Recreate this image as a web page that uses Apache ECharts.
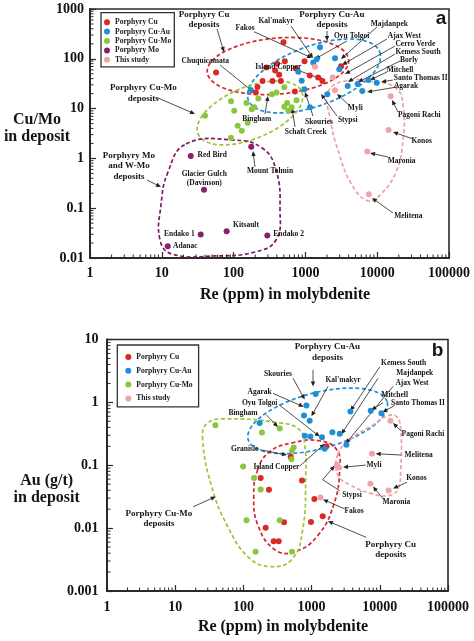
<!DOCTYPE html>
<html><head><meta charset="utf-8">
<script src="https://cdn.jsdelivr.net/npm/echarts@6/dist/echarts.min.js"></script>
<style>html,body{margin:0;padding:0;background:#fff}#c{width:474px;height:641px}</style>
</head><body><div id="c"></div>
<script>
// ---------- DATA ----------
const seriesNames = ['Porphyry Cu','Porphyry Cu-Au','Porphyry Cu-Mo','Porphyry Mo','This study'];
const xTicks = ['1','10','100','1000','10000','100000'];

// Panel a : Re (ppm) vs Cu/Mo
const aPorphyryCu = [[57,53],[495,216],[287,67],[404,80],[517,89],[379,58],[431,48],[971,89],[1151,46],[1504,42],[1727,36],[3141,71],[215,27],[253,36],[348,36],[455,36],[713,22],[204,21],[735,64]];
const aPorphyryCuAu = [[1597,170],[1437,98],[1288,84],[2583,102],[2965,61.5],[796,55],[888,36.3],[966,24.4],[1159,10.6],[2018,19.4],[3882,28.4],[5346,31.2],[6194,22.6],[7516,37.5],[9840,33.1],[173,23.6]];
const aPorphyryCuMo = [[40,7.2],[92,14],[102,9.1],[151,13],[179,9.7],[194,10.6],[114,4.5],[130,3.6],[157,5.2],[92,2.6],[221,16],[341,19.5],[396,21],[508,26.8],[508,10.9],[557,13],[644,10.6],[581,9.1],[751,14.7]];
const aPorphyryMo = [[25.3,1.12],[176,1.72],[38.7,0.235],[34.8,0.0297],[80,0.0346],[295,0.0284],[12.1,0.0173]];
const aThisStudy = [[1361,69],[2400,42],[2585,23.4],[15400,17.7],[14400,3.7],[7280,1.38],[7650,0.19]];

// Panel b : Re (ppm) vs Au (g/t)
const bPorphyryCu = [[494,0.137],[1650,0.2],[179,0.0626],[237,0.0408],[723,0.0574],[394,0.0124],[212,0.0101],[278,0.0062],[329,0.0062],[1099,0.029],[980,0.0125],[1455,0.0154]];
const bPorphyryCuAu = [[1148,1.36],[839,0.89],[774,0.62],[937,0.51],[173,0.468],[793,0.294],[960,0.286],[1420,0.28],[2018,0.336],[2583,0.316],[3238,0.211],[1556,0.183],[3706,0.714],[7360,0.733],[10550,0.673]];
const bPorphyryCuMo = [[38.8,0.433],[187,0.332],[341,0.385],[547,0.192],[516,0.17],[506,0.125],[99,0.0957],[143,0.0626],[179,0.041],[111,0.0133],[341,0.0133],[151,0.0042],[516,0.0042]];
const bThisStudy = [[14300,0.508],[7690,0.152],[2360,0.102],[2523,0.092],[13500,0.0396],[7280,0.051],[1346,0.0308]];

// ---------- ANNOTATIONS (data space; positions as log10 values) ----------
const aLabels = [
 ['Porphyry Cu\ndeposits',1.588,2.789,9],['Porphyry Cu-Au\ndeposits',3.370,2.789,9],
 ['Porphyry Cu-Mo\ndeposits',0.742,1.313,9],['Porphyry Mo\nand W-Mo\ndeposits',0.543,-0.153,9],
 ['Chuquicamata',1.606,1.950,7.5],['Fakos',2.159,2.622,7.5],["Kal'makyr",2.591,2.753,7.5],
 ['Island Copper',2.623,1.825,7.5],['Majdanpek',4.169,2.689,7.5],['Oyu Tolgoi',3.645,2.466,7.5],
 ['Ajax West',4.378,2.466,7.5],['Cerro Verde',4.531,2.293,7.5],['Kemess South',4.568,2.129,7.5],
 ['Borly',4.443,1.966,7.5],['Mitchell',4.318,1.769,7.5],['Santo Thomas II',4.606,1.620,7.5],
 ['Agarak',4.401,1.456,7.5],['Myli',3.695,1.020,7.5],['Stypsi',3.589,0.775,7.5],
 ['Skouries',3.189,0.733,7.5],['Schaft Creek',3.004,0.528,7.5],['Bingham',2.322,0.799,7.5],
 ['Pagoni Rachi',4.586,0.865,7.5],['Konos',4.620,0.347,7.5],['Maronia',4.341,-0.046,7.5],
 ['Melitena',4.433,-1.157,7.5],['Red Bird',1.703,0.076,7.5],['Mount Tolmin',2.507,-0.253,7.5],
 ['Glacier Gulch\n(Davinson)',1.592,-0.408,7.5],['Kitsault',2.173,-1.337,7.5],
 ['Endako 1',1.244,-1.518,7.5],['Endako 2',2.767,-1.526,7.5],['Adanac',1.327,-1.763,7.5],
 ['a',4.889,2.811,19,'sans'],
 ['Cu/Mo\nin deposit',-0.738,0.600,16]
];
const bLabels = [
 ['Porphyry Cu-Au\ndeposits',3.232,0.797,9],['Kemess South',4.350,0.624,7.5],['Majdanpek',4.512,0.468,7.5],
 ['Ajax West',4.472,0.306,7.5],['Mitchell',4.218,0.124,7.5],['Santo Thomas II',4.560,-0.006,7.5],
 ['Skouries',2.507,0.449,7.5],["Kal'makyr",3.460,0.351,7.5],['Agarak',2.239,0.170,7.5],
 ['Oyu Tolgoi',2.239,-0.006,7.5],['Bingham',1.994,-0.168,7.5],['Pagoni Rachi',4.633,-0.506,7.5],
 ['Granisle',2.019,-0.740,7.5],['Melitena',4.570,-0.837,7.5],['Island Copper',2.484,-1.032,7.5],
 ['Myli',3.915,-0.992,7.5],['Konos',4.537,-1.206,7.5],['Stypsi',3.592,-1.467,7.5],
 ['Maronia',4.243,-1.583,7.5],['Fakos',3.622,-1.725,7.5],['Porphyry Cu-Mo\ndeposits',0.762,-1.846,9],
 ['Porphyry Cu\ndeposits',4.160,-2.343,9],['b',4.845,0.819,19,'sans'],
 ['Au (g/t)\nin deposit',-0.884,-1.389,16]
];
const aArrows = [
 [[1.769,2.598],[1.866,2.137]],[[3.301,2.558],[3.301,2.357]],[[0.947,1.213],[1.462,0.892]],
 [[0.794,-0.434],[0.989,-0.574]],[[1.811,1.876],[2.312,1.293]],[[2.284,2.544],[3.092,2.016]],
 [[2.799,2.659],[3.106,2.016]],[[2.925,1.755],[3.259,1.574]],[[3.997,2.639],[3.496,1.996]],
 [[3.579,2.357],[3.134,1.996]],[[4.136,2.398],[3.510,1.876]],[[4.248,2.257],[3.552,1.695]],
 [[4.248,2.096],[3.593,1.534]],[[4.318,1.956],[3.733,1.534]],[[4.136,1.735],[3.900,1.574]],
 [[4.220,1.574],[4.053,1.534]],[[4.276,1.434],[3.858,1.333]],[[3.621,1.052],[3.440,1.293]],
 [[3.440,0.851],[3.217,1.293]],[[3.106,0.851],[2.994,1.333]],[[2.855,0.631],[2.813,1.012]],
 [[2.437,0.892],[2.479,1.253]],[[4.290,0.932],[4.206,1.173]],[[4.499,0.390],[4.220,0.530]],
 [[4.150,0.028],[3.900,0.108]],[[4.220,-1.096],[3.928,-0.795]],[[2.298,-0.173],[2.270,0.149]]
];
const bArrows = [
 [[3.021,0.516],[3.021,0.254]],[[3.999,0.565],[3.569,-0.135]],[[3.974,0.384],[3.437,-0.506]],
 [[4.194,0.254],[3.500,-0.656]],[[4.047,-0.006],[3.877,-0.122]],[[4.218,-0.051],[4.038,-0.156]],
 [[2.727,0.384],[2.899,0.046]],[[3.240,0.254],[2.997,-0.221]],[[2.434,0.143],[2.884,-0.071]],
 [[2.522,-0.038],[3.119,-0.544]],[[2.337,-0.2],[2.507,-0.395]],[[4.317,-0.460],[4.194,-0.330]],
 [[2.239,-0.752],[2.639,-0.837]],[[4.317,-0.837],[3.940,-0.817]],[[2.826,-1.013],[3.192,-0.659]],
 [[3.793,-0.998],[3.460,-1.032]],[[4.399,-1.271],[4.194,-1.370]],[[3.412,-1.405],[3.163,-1.230],[3.339,-1.008]],
 [[4.047,-1.532],[3.900,-1.337]],[[3.485,-1.694],[3.167,-1.544]],[[1.261,-1.662],[1.594,-1.498]],
 [[3.804,-2.148],[3.240,-1.889]]
];
const aEnclosures = [
 {kind:'ellipse', c:[415,71.6], a:71, b:28, rot:-5, color:'#d8262a'},
 {kind:'ellipse', c:[1318,45.2], a:70, b:30, rot:-20, color:'#1f8fd8'},
 {kind:'ellipse', c:[169,8.17], a:56, b:26, rot:-22, color:'#9cc53c'},
 {kind:'poly', pts:[[21.7,1.95],[98,2.34],[249,1.62],[390,0.585],[443,0.092],[390,0.023],[199,0.0132],[55,0.011],[13.9,0.012],[9.44,0.023],[9.75,0.116],[12.2,0.533]], color:'#7d1a62'},
 {kind:'poly', pts:[[2065,21.5],[3563,35.8],[9320,34.2],[18260,25.9],[22880,11.8],[22880,2.34],[18260,0.533],[10940,0.184],[7450,0.14],[4456,0.292],[2845,1.47],[2203,6.5]], color:'#f0a0a8'}
];
const bEnclosures = [
 {kind:'ellipse', c:[1229,0.508], a:72, b:28, rot:-15, color:'#1f8fd8'},
 {kind:'poly', pts:[[162,0.085],[243,0.164],[529,0.228],[1315,0.245],[2336,0.176],[2583,0.085],[2110,0.0236],[1229,0.0076],[565,0.0042],[288,0.00456],[162,0.0114],[142,0.034]], color:'#d8262a'},
 {kind:'poly', pts:[[25.3,0.254],[29,0.456],[53.2,0.547],[341,0.473],[669,0.365],[793,0.211],[820,0.0706],[741,0.00946],[511,0.00316],[243,0.00245],[116,0.00353],[58.9,0.0106],[34.3,0.0456]], color:'#9cc53c'},
 {kind:'poly', pts:[[2414,0.147],[3619,0.254],[7608,0.424],[13060,0.611],[17700,0.589],[20250,0.366],[20250,0.085],[18300,0.041],[13060,0.0328],[7608,0.0353],[3619,0.049],[2414,0.0706]], color:'#f0a0a8'}
];

// ---------- STYLE ----------
const SERIF = '"Liberation Serif","Times New Roman",serif';
const SANS = '"Liberation Sans",Arial,sans-serif';
const COLORS = {'Porphyry Cu':'#d72a24','Porphyry Cu-Au':'#1e8fd7','Porphyry Cu-Mo':'#8cc63f','Porphyry Mo':'#8a1f6b','This study':'#f1a3a9'};
const AX = '#2a2a2a';

const chart = echarts.init(document.getElementById('c'));

function scatter(name, data, gi){
  return {type:'scatter', name, data, xAxisIndex:gi, yAxisIndex:gi, symbolSize:6, z:5,
    itemStyle:{color:COLORS[name], opacity:1}, silent:true};
}
function idxData(n){ const d=[]; for(let i=0;i<n;i++) d.push([1,1,i]); return d; }
function custom(gi, data, renderItem, z){
  return {type:'custom', xAxisIndex:gi, yAxisIndex:gi, data, renderItem, encode:{x:0,y:1}, z, silent:true, clip:false};
}
const P = v => Math.pow(10, v);
function labelRender(list){
  return (params, api) => {
    const L = list[api.value(2)];
    const p = api.coord([P(L[1]), P(L[2])]);
    return {type:'text', x:p[0], y:p[1], style:{text:L[0], fill:'#151515',
      fontFamily: L[4]==='sans'?SANS:SERIF, fontWeight:'bold', fontSize:L[3],
      lineHeight: L[3]>=16 ? 17 : L[3]*1.15, align:'center', verticalAlign:'middle'}};
  };
}
function arrowRender(list){
  return (params, api) => {
    const A = list[api.value(2)];
    const pts = A.map(q => api.coord([P(q[0]), P(q[1])]));
    const n = pts.length, t = pts[n-1], s = pts[n-2];
    let dx = t[0]-s[0], dy = t[1]-s[1]; const len = Math.hypot(dx,dy)||1; dx/=len; dy/=len;
    const hl = 5, hw = 2.2;
    const head = [t, [t[0]-dx*hl-dy*hw, t[1]-dy*hl+dx*hw], [t[0]-dx*hl+dy*hw, t[1]-dy*hl-dx*hw]];
    const lineEnd = pts.slice(0, n-1).concat([[t[0]-dx*hl*0.8, t[1]-dy*hl*0.8]]);
    return {type:'group', children:[
      {type:'polyline', shape:{points:lineEnd}, style:{stroke:'#222', lineWidth:0.8, fill:null}},
      {type:'polygon', shape:{points:head}, style:{fill:'#222'}}
    ]};
  };
}
function enclosureRender(list){
  return (params, api) => {
    const E = list[api.value(2)];
    let pts;
    if (E.kind === 'ellipse'){
      const c = api.coord(E.c), th = E.rot*Math.PI/180; pts = [];
      for (let i=0;i<90;i++){ const t=i/90*2*Math.PI, ex=E.a*Math.cos(t), ey=E.b*Math.sin(t);
        pts.push([c[0]+ex*Math.cos(th)-ey*Math.sin(th), c[1]+ex*Math.sin(th)+ey*Math.cos(th)]); }
      return {type:'polygon', shape:{points:pts}, style:{fill:'none', stroke:E.color, lineWidth:1.7, lineDash:[4,2.5]}};
    }
    pts = E.pts.map(q => api.coord(q));
    return {type:'polygon', shape:{points:pts, smooth:0.45}, style:{fill:'none', stroke:E.color, lineWidth:1.7, lineDash:[4,2.5]}};
  };
}
function minorTickData(xExp, yExp){
  const d=[];
  for (let e=xExp[0]; e<xExp[1]; e++) for (let k=2;k<=9;k++) d.push([k*P(e), P(yExp[0]), 0]);
  for (let e=yExp[0]; e<yExp[1]; e++) for (let k=2;k<=9;k++) d.push([P(xExp[0]), k*P(e), 1]);
  return d;
}
function tickRender(params, api){
  const p = api.coord([api.value(0), api.value(1)]);
  const f = api.value(2);
  const shape = f===0 ? {x1:p[0],y1:p[1],x2:p[0],y2:p[1]-3.5} : {x1:p[0],y1:p[1],x2:p[0]+3.5,y2:p[1]};
  return {type:'line', shape, style:{stroke:AX, lineWidth:1}};
}
const fmt = v => String(+Number(v).toPrecision(6));
function xAxis(gi, gap, shift, margin){
  return {type:'log', logBase:10, min:1, max:100000, gridIndex:gi,
    axisLine:{show:true, onZero:false, lineStyle:{color:AX, width:2}},
    axisTick:{show:true, inside:true, length:6, lineStyle:{color:AX, width:1.2}},
    splitLine:{show:false}, minorTick:{show:false},
    axisLabel:{formatter:fmt, fontFamily:SERIF, fontWeight:'bold', fontSize:14, color:'#111', margin},
    name:'Re (ppm) in molybdenite', nameLocation:'middle', nameGap:gap, nameMoveOverlap:false,
    nameTextStyle:{fontFamily:SERIF, fontWeight:'bold', fontSize:16, color:'#111', padding:[0,0,0,shift]}};
}
function yAxis(gi, min, max, margin){
  return {type:'log', logBase:10, min, max, gridIndex:gi,
    axisLine:{show:true, onZero:false, lineStyle:{color:AX, width:2}},
    axisTick:{show:true, inside:true, length:6, lineStyle:{color:AX, width:1.2}},
    splitLine:{show:false}, minorTick:{show:false},
    axisLabel:{formatter:fmt, fontFamily:SERIF, fontWeight:'bold', fontSize:14, color:'#111', margin}};
}
const legendCommon = {orient:'vertical', icon:'circle', itemWidth:6, itemHeight:6,
  borderColor:'#333', borderWidth:1.3, backgroundColor:'#fff', selectedMode:false,
  textStyle:{fontFamily:SERIF, fontWeight:'bold', fontSize:7.6, color:'#1a1a1a', lineHeight:9}};

const option = {
  animation:false,
  backgroundColor:'#fff',
  grid:[
    {left:90, top:9, width:359, height:249, show:true, borderColor:AX, borderWidth:1.6, backgroundColor:'transparent', outerBoundsMode:'none'},
    {left:107, top:339.5, width:341, height:251.5, show:true, borderColor:AX, borderWidth:1.6, backgroundColor:'transparent', outerBoundsMode:'none'}
  ],
  xAxis:[xAxis(0, 29, 31, 8), xAxis(1, 27.5, 11, 9.5)],
  yAxis:[yAxis(0, 0.01, 1000, 6), yAxis(1, 0.001, 10, 8.5)],
  legend:[
    Object.assign({}, legendCommon, {data:seriesNames, left:101, top:12.7, itemGap:0.4, padding:[5,3,2.5,3]}),
    Object.assign({}, legendCommon, {data:['Porphyry Cu','Porphyry Cu-Au','Porphyry Cu-Mo','This study'], left:117.3, top:345, itemGap:4.8, padding:[7.5,6,4,8]})
  ],
  series:[
    custom(0, idxData(aEnclosures.length), enclosureRender(aEnclosures), 1),
    custom(1, idxData(bEnclosures.length), enclosureRender(bEnclosures), 1),
    custom(0, minorTickData([0,5],[-2,3]), tickRender, 2),
    custom(1, minorTickData([0,5],[-3,1]), tickRender, 2),
    custom(0, idxData(aArrows.length), arrowRender(aArrows), 3),
    custom(1, idxData(bArrows.length), arrowRender(bArrows), 3),
    scatter('Porphyry Cu', aPorphyryCu, 0),
    scatter('Porphyry Cu-Au', aPorphyryCuAu, 0),
    scatter('Porphyry Cu-Mo', aPorphyryCuMo, 0),
    scatter('Porphyry Mo', aPorphyryMo, 0),
    scatter('This study', aThisStudy, 0),
    scatter('Porphyry Cu', bPorphyryCu, 1),
    scatter('Porphyry Cu-Au', bPorphyryCuAu, 1),
    scatter('Porphyry Cu-Mo', bPorphyryCuMo, 1),
    scatter('This study', bThisStudy, 1),
    custom(0, idxData(aLabels.length), labelRender(aLabels), 6),
    custom(1, idxData(bLabels.length), labelRender(bLabels), 6)
  ]
};
chart.setOption(option);
</script>
</body></html>
